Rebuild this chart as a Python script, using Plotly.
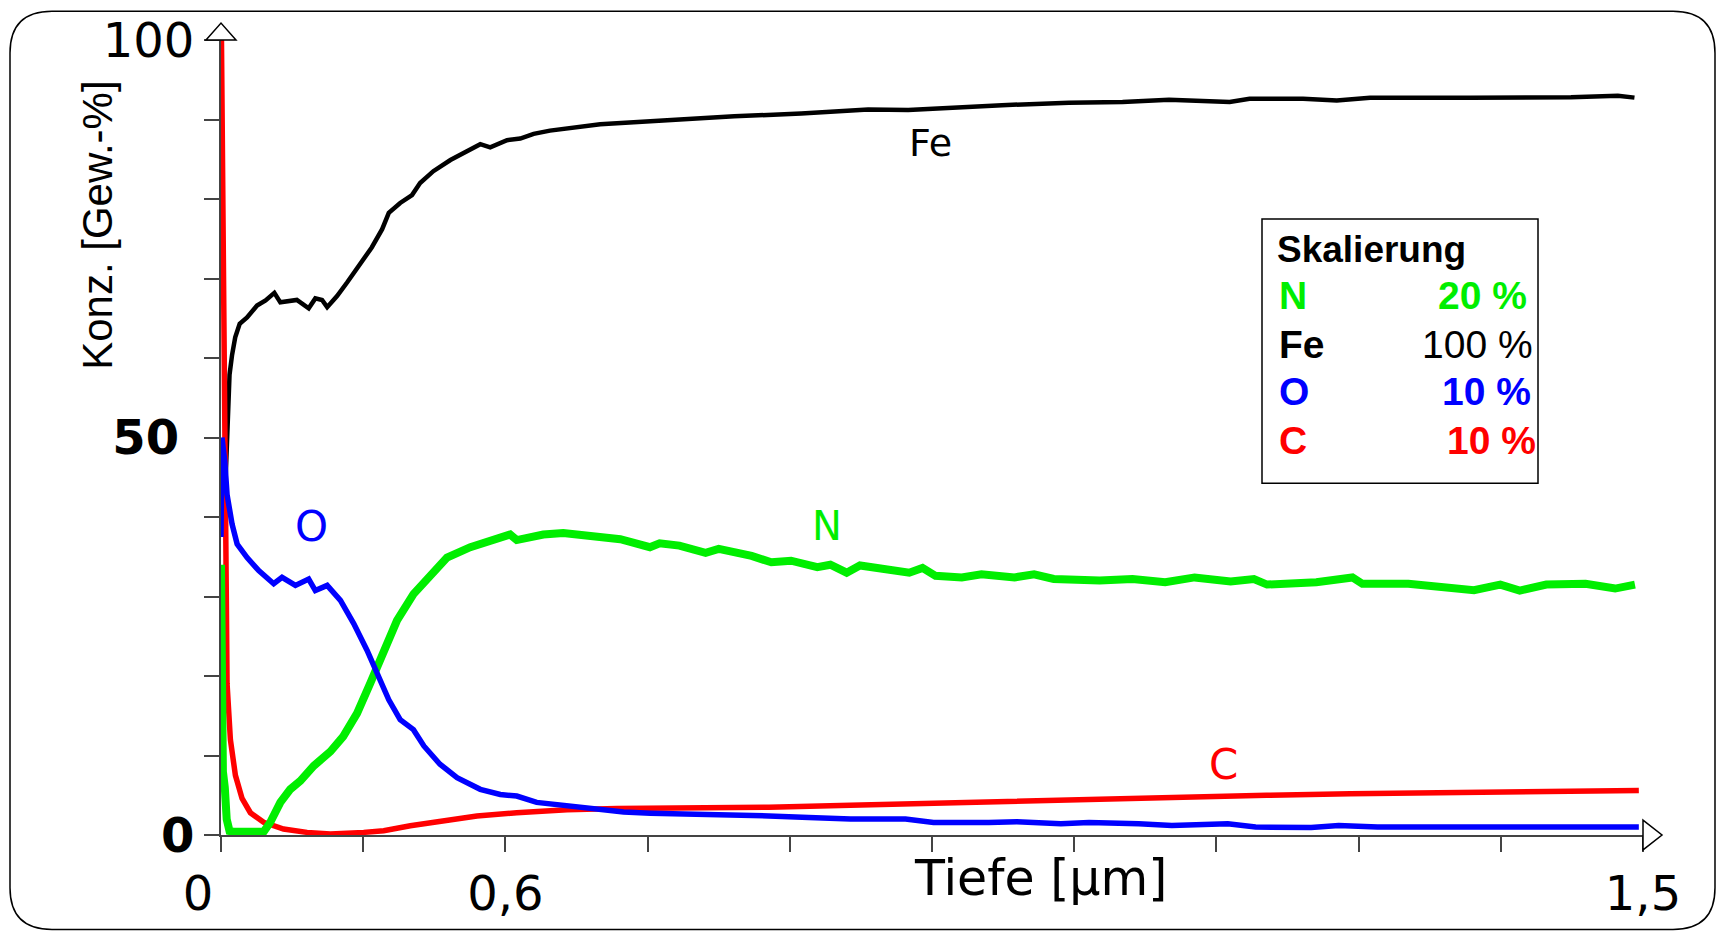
import plotly.graph_objects as go

# ---- depth profile data (depth in µm, concentration on the scaled axis) ----
fe_x = [0.004, 0.0064, 0.009, 0.0117, 0.015, 0.0197, 0.0275, 0.038, 0.047, 0.0563,
        0.0626, 0.080, 0.0925, 0.0995, 0.1066, 0.112, 0.1224, 0.133, 0.147, 0.159,
        0.170, 0.177, 0.189, 0.2015, 0.210, 0.224, 0.242, 0.2595, 0.2735, 0.284,
        0.3017, 0.3157, 0.3298, 0.347, 0.365, 0.3825, 0.400, 0.4707, 0.5414, 0.612,
        0.6826, 0.7249, 0.767, 0.8238, 0.8944, 0.951, 1.000, 1.064, 1.085, 1.1414,
        1.177, 1.212, 1.318, 1.424, 1.4735, 1.491]
fe_y = [42.0, 50.4, 57.9, 60.4, 62.6, 64.3, 65.1, 66.6, 67.25, 68.2,
        67.0, 67.3, 66.25, 67.5, 67.3, 66.4, 67.8, 69.5, 71.8, 73.9,
        76.2, 78.25, 79.5, 80.5, 82.0, 83.5, 84.9, 86.0, 86.9, 86.5,
        87.4, 87.6, 88.2, 88.6, 88.9, 89.2, 89.4, 89.9, 90.4, 90.75,
        91.25, 91.2, 91.5, 91.8, 92.1, 92.2, 92.5, 92.2, 92.6, 92.6,
        92.4, 92.75, 92.75, 92.8, 93.0, 92.75]

c_x = [0.0005, 0.003, 0.0045, 0.0064, 0.0099, 0.0152, 0.0222, 0.031, 0.045, 0.066,
       0.0908, 0.1154, 0.1505, 0.1716, 0.1997, 0.2348, 0.270, 0.312, 0.365, 0.4177,
       0.453, 0.52, 0.578, 0.664, 0.751, 0.8395, 0.927, 1.015, 1.103, 1.191,
       1.2785, 1.367, 1.425, 1.4956]
c_y = [100.0, 60.0, 38.0, 19.0, 12.0, 7.5, 4.6, 2.8, 1.6, 0.75,
       0.33, 0.12, 0.33, 0.54, 1.17, 1.8, 2.4, 2.8, 3.17, 3.33,
       3.33, 3.4, 3.5, 3.75, 4.0, 4.4, 4.5, 4.75, 5.0, 5.2,
       5.3, 5.3, 5.4, 5.6]

n_x = [0.000, 0.0005, 0.001, 0.002, 0.004, 0.006, 0.009, 0.013, 0.03, 0.045,
       0.052, 0.0626, 0.073, 0.0837, 0.0978, 0.1154, 0.129, 0.1435, 0.1575, 0.1716,
       0.1857, 0.203, 0.2208, 0.2384, 0.263, 0.2876, 0.305, 0.312, 0.340, 0.361,
       0.3966, 0.4212, 0.4524, 0.4627, 0.4835, 0.5112, 0.525, 0.5597, 0.5805, 0.6013,
       0.629, 0.6428, 0.660, 0.674, 0.726, 0.740, 0.7537, 0.7814, 0.8022, 0.837,
       0.8577, 0.8784, 0.9268, 0.9615, 0.996, 1.027, 1.065, 1.0896, 1.1034, 1.1554,
       1.1935, 1.204, 1.2525, 1.287, 1.3217, 1.3495, 1.370, 1.398, 1.4394, 1.4706,
       1.4915]
n_y = [34.0, 20.0, 14.5, 8.0, 6.0, 2.0, 0.5, 0.4, 0.4, 0.4,
       1.6, 4.1, 5.75, 6.8, 8.7, 10.5, 12.4, 15.3, 19.1, 22.8,
       27.0, 30.3, 32.8, 34.9, 36.2, 37.0, 37.8, 37.1, 37.8, 38.0,
       37.6, 37.2, 36.2, 36.7, 36.4, 35.5, 36.0, 35.1, 34.3, 34.5,
       33.7, 34.0, 33.0, 33.9, 33.0, 33.6, 32.6, 32.4, 32.8, 32.4,
       32.8, 32.2, 32.0, 32.2, 31.8, 32.4, 31.9, 32.2, 31.5, 31.8,
       32.4, 31.6, 31.6, 31.2, 30.8, 31.5, 30.75, 31.5, 31.6, 31.0,
       31.5]

o_x = [0.000, 0.001, 0.004, 0.0064, 0.0117, 0.017, 0.0275, 0.0398, 0.0556, 0.0644,
       0.0785, 0.0925, 0.0995, 0.112, 0.126, 0.140, 0.154, 0.1646, 0.177, 0.189,
       0.203, 0.214, 0.231, 0.249, 0.2735, 0.2946, 0.312, 0.333, 0.365, 0.400,
       0.4247, 0.453, 0.52, 0.578, 0.62, 0.664, 0.722, 0.7516, 0.810, 0.8395,
       0.886, 0.9156, 0.968, 1.003, 1.062, 1.0914, 1.150, 1.179, 1.220, 1.308,
       1.367, 1.408, 1.472, 1.4956]
o_y = [37.5, 50.0, 47.0, 42.8, 39.1, 36.6, 34.9, 33.25, 31.6, 32.4,
       31.4, 32.2, 30.75, 31.4, 29.5, 26.6, 23.25, 20.3, 17.0, 14.5,
       13.25, 11.2, 8.9, 7.2, 5.75, 5.1, 4.9, 4.1, 3.66, 3.25,
       2.9, 2.75, 2.6, 2.4, 2.2, 2.0, 2.0, 1.58, 1.58, 1.66,
       1.4, 1.58, 1.4, 1.2, 1.4, 1.0, 0.95, 1.2, 1.0, 1.0,
       0.95, 0.83, 0.83, 1.0]

# ---- scaling table ----
scale_elements = ["N", "Fe", "O", "C"]
scale_values = ["20 %", "100 %", "10 %", "10 %"]

# ---- axis ticks ----
x_tickvals = [0.15 * i for i in range(11)]
x_ticktext = ["0\u00a0\u00a0\u00a0", "", "0,6", "", "", "", "", "", "", "", "1,5"]
y_tickvals = [10 * i for i in range(11)]
y_ticktext = ["<b>0</b>", "", "", "", "", "<b>50</b>\u00a0", "", "", "", "", "100"]

GREEN = "#00ee00"
RED = "#ff0000"
BLUE = "#0000ff"
BLACK = "#000000"
AXIS = "#444444"

W, H = 1721, 933
L, R, T, B = 221, 78, 36, 97
PW, PH = W - L - R, H - T - B


def px(X, Y):
    """pixel position -> paper coordinates"""
    return (X - L) / PW, (H - B - Y) / PH


fig = go.Figure()
fig.add_trace(go.Scatter(x=fe_x, y=fe_y, mode="lines", line=dict(color=BLACK, width=4.5)))
fig.add_trace(go.Scatter(x=c_x, y=c_y, mode="lines", line=dict(color=RED, width=5.5)))
fig.add_trace(go.Scatter(x=n_x, y=n_y, mode="lines", line=dict(color=GREEN, width=8)))
fig.add_trace(go.Scatter(x=o_x, y=o_y, mode="lines", line=dict(color=BLUE, width=5.5)))

fig.update_layout(
    width=W, height=H,
    margin=dict(l=L, r=R, t=T, b=B),
    paper_bgcolor="white", plot_bgcolor="white",
    showlegend=False,
    xaxis=dict(range=[0, 1.5], tickvals=x_tickvals, ticktext=x_ticktext,
               ticks="outside", ticklen=15, tickwidth=1.5, tickcolor=AXIS,
               showline=True, linecolor=AXIS, linewidth=2, showgrid=False, zeroline=False,
               tickfont=dict(family="DejaVu Sans", size=48, color=BLACK)),
    yaxis=dict(range=[0, 100], tickvals=y_tickvals, ticktext=y_ticktext,
               ticks="outside", ticklen=15, tickwidth=1.5, tickcolor=AXIS,
               showline=True, linecolor=AXIS, linewidth=2, showgrid=False, zeroline=False,
               tickfont=dict(family="DejaVu Sans", size=48, color=BLACK)),
)


def P(X, Y):
    a, b = px(X, Y)
    return f"{a:.5f},{b:.5f}"


shapes = []
# rounded outer frame
x0, y0, x1, y1, r = 10, 7, 1715, 931, 42
path = (f"M {P(x0 + r, y0)} L {P(x1 - r, y0)} Q {P(x1, y0)} {P(x1, y0 + r)} "
        f"L {P(x1, y1 - r)} Q {P(x1, y1)} {P(x1 - r, y1)} "
        f"L {P(x0 + r, y1)} Q {P(x0, y1)} {P(x0, y1 - r)} "
        f"L {P(x0, y0 + r)} Q {P(x0, y0)} {P(x0 + r, y0)} Z")
shapes.append(dict(type="path", xref="paper", yref="paper", path=path,
                   line=dict(color=BLACK, width=1.5), layer="below"))
# arrow heads at the axis ends
shapes.append(dict(type="path", xref="paper", yref="paper",
                   path=f"M {P(L - 15, T)} L {P(L, 19)} L {P(L + 15, T)} Z",
                   line=dict(color=BLACK, width=1.5), fillcolor="white"))
shapes.append(dict(type="path", xref="paper", yref="paper",
                   path=f"M {P(L + PW, 821)} L {P(L + PW + 19, 836)} L {P(L + PW, 851)} Z",
                   line=dict(color=BLACK, width=1.5), fillcolor="white"))
# scaling box
bx0, by0 = px(1262, 216)
bx1, by1 = px(1538, 482)
shapes.append(dict(type="rect", xref="paper", yref="paper", x0=bx0, y0=by1, x1=bx1, y1=by0,
                   line=dict(color=BLACK, width=1.5), fillcolor="white"))
fig.update_layout(shapes=shapes)

ann = []
# axis titles
ax, ay = px(98, 223)
ann.append(dict(x=ax, y=ay, xref="paper", yref="paper", text="Konz. [Gew.-%]",
                textangle=-90, showarrow=False, xanchor="center", yanchor="middle",
                font=dict(family="Liberation Sans", size=42, color=BLACK)))
tx, ty = px(1040, 880)
ann.append(dict(x=tx, y=ty, xref="paper", yref="paper", text="Tiefe [µm]",
                showarrow=False, xanchor="center", yanchor="middle",
                font=dict(family="DejaVu Sans", size=49, color=BLACK)))

# curve labels
curve_labels = [("Fe", 0.748, 87.0, BLACK, 38), ("O", 0.095, 38.75, BLUE, 42),
                ("N", 0.639, 38.9, GREEN, 40), ("C", 1.058, 8.9, RED, 42)]
for txt, lx, ly, col, sz in curve_labels:
    ann.append(dict(x=lx, y=ly, xref="x", yref="y", text=txt, showarrow=False,
                    xanchor="center", yanchor="middle",
                    font=dict(family="DejaVu Sans", size=sz, color=col)))

# scaling table text
hx, hy = px(1275, 247)
ann.append(dict(x=hx, y=hy, xref="paper", yref="paper", text="<b>Skalierung</b>",
                xanchor="left", yanchor="middle", showarrow=False,
                font=dict(family="Liberation Sans", size=37, color=BLACK)))
row_y = [293, 342, 390, 439]
row_right = [1529, 1535, 1533, 1538]
row_colors = [GREEN, BLACK, BLUE, RED]
row_bold = [True, False, True, True]
for el, val, yy, xr, col, bold in zip(scale_elements, scale_values, row_y, row_right,
                                       row_colors, row_bold):
    lx, ly = px(1277, yy)
    ann.append(dict(x=lx, y=ly, xref="paper", yref="paper", text=f"<b>{el}</b>",
                    xanchor="left", yanchor="middle", showarrow=False,
                    font=dict(family="Liberation Sans", size=39, color=col)))
    rx, ry = px(xr, yy)
    ann.append(dict(x=rx, y=ry, xref="paper", yref="paper",
                    text=f"<b>{val}</b>" if bold else val,
                    xanchor="right", yanchor="middle", showarrow=False,
                    font=dict(family="Liberation Sans", size=39, color=col)))
fig.update_layout(annotations=ann)

fig.write_html("out.html")
